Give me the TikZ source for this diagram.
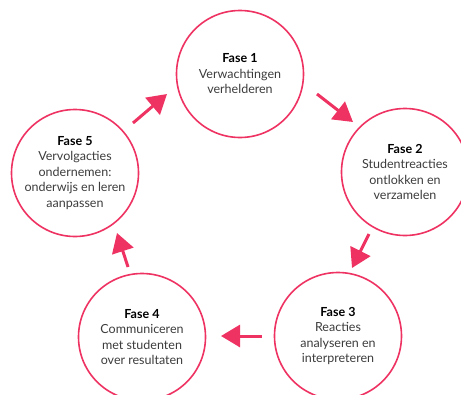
\documentclass[tikz,border=0pt]{standalone}
\usepackage{fontspec}
\setmainfont{Lato}
\usepackage{xcolor}
\usepackage{tikz}
\usetikzlibrary{arrows.meta, calc}

\definecolor{fasekleur}{HTML}{EE3363}
\definecolor{tekstgrijs}{HTML}{3C3C3C}

\begin{document}
\begin{tikzpicture}[x=1pt, y=-1pt,
    fase/.style={circle, draw=fasekleur, line width=1.6pt, minimum size=127pt,
        inner sep=0pt, align=center, text=tekstgrijs,
        font=\fontsize{12.5}{15.5}\selectfont},
    pijl/.style={-{Triangle[length=19pt, width=22pt]}, draw=fasekleur,
        line width=3pt}]
    % Frame of the picture
    \useasboundingbox (0,0) rectangle (461,394);
    \clip (0,0) rectangle (461,394);

    % The five phases
    \node[fase] (f1) at (240,74) {\textcolor{black}{\textbf{Fase 1}}\\Verwachtingen\\verhelderen};
    \node[fase] (f2) at (405,172) {\textcolor{black}{\textbf{Fase 2}}\\Studentreacties\\ontlokken en\\verzamelen};
    \node[fase] (f3) at (338,336) {\textcolor{black}{\textbf{Fase 3}}\\Reacties\\analyseren en\\interpreteren};
    \node[fase] (f4) at (142,337) {\textcolor{black}{\textbf{Fase 4}}\\Communiceren\\met studenten\\over resultaten};
    \node[fase] (f5) at (75,173) {\textcolor{black}{\textbf{Fase 5}}\\Vervolgacties\\ondernemen:\\onderwijs en leren\\aanpassen};

    % Arrows between the phases
    \draw[pijl] ($(f1)+(77,20)$) -- ($(f2)+(-52,-50)$);
    \draw[pijl] ($(f2)+(-36,62)$) -- ($(f3)+(14,-68)$);
    \draw[pijl] ($(f3)+(-76,0)$) -- ($(f4)+(79,-1)$);
    \draw[pijl] ($(f4)+(-14,-70)$) -- ($(f5)+(42,60)$);
    \draw[pijl] ($(f5)+(58,-50)$) -- ($(f1)+(-73,20)$);
\end{tikzpicture}
\end{document}
